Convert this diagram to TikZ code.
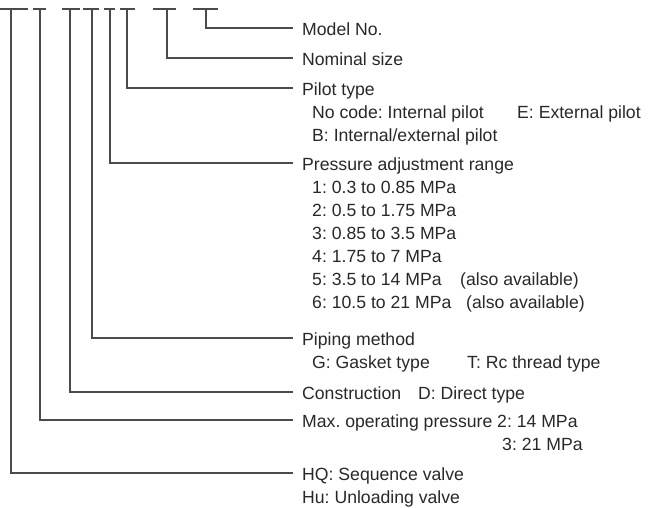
\documentclass[tikz,border=0pt]{standalone}
\usepackage{fontspec}
\setmainfont{Liberation Sans}
\frenchspacing
\definecolor{txtgray}{RGB}{40,40,40}
\definecolor{lngray}{RGB}{75,75,75}

\begin{document}
\begin{tikzpicture}[x=1bp, y=-1bp,
		lead/.style={draw=lngray, line width=1.2bp},
		head/.style={anchor=west, inner xsep=9bp, inner ysep=0pt, text height=15bp, text depth=0pt, text=txtgray, font=\fontsize{17.7}{22}\selectfont},
		sub/.style={head, inner xsep=0pt}]
		\useasboundingbox (0,0) rectangle (652,508);
		
		% Barras del código
		\draw[lead] (0,9) -- (28,9) (33,9) -- (46,9) (62,9) -- (80,9) (83,9) -- (99,9)
			(104,9) -- (115,9) (120,9) -- (135,9) (153,9) -- (176,9) (193,9) -- (218,9);
		\coordinate (t1) at (11,9);
		\coordinate (t2) at (40,9);
		\coordinate (t3) at (70,9);
		\coordinate (t4) at (92,9);
		\coordinate (t5) at (110,9);
		\coordinate (t6) at (127,9);
		\coordinate (t7) at (167,9);
		\coordinate (t8) at (206,9);
		
		% Títulos
		\node[head] (model) at (293,28) {Model No.};
		\node[head] (size) at (293,58) {Nominal size};
		\node[head] (pilot) at (293,88) {Pilot type};
		\node[head] (range) at (293,163) {Pressure adjustment range};
		\node[head] (piping) at (293,338) {Piping method};
		\node[head] (constr) at (293,392) {Construction};
		\node[head] (maxp) at (293,420) {Max. operating pressure};
		\node[head] (hq) at (293,473) {HQ: Sequence valve};
		
		% Opciones
		\node[sub] (pilotA) at (312,111) {No code: Internal pilot};
		\node[sub] (pilotE) at (517,111) {E: External pilot};
		\node[sub] (pilotB) at (312,134) {B: Internal/external pilot};
		\node[sub] (r1) at (312,186) {1: 0.3 to 0.85 MPa};
		\node[sub] (r2) at (312,209) {2: 0.5 to 1.75 MPa};
		\node[sub] (r3) at (312,232) {3: 0.85 to 3.5 MPa};
		\node[sub] (r4) at (312,255) {4: 1.75 to 7 MPa};
		\node[sub] (r5) at (312,278) {5: 3.5 to 14 MPa};
		\node[sub] (r5a) at (460,278) {(also available)};
		\node[sub] (r6) at (312,301) {6: 10.5 to 21 MPa};
		\node[sub] (r6a) at (466,301) {(also available)};
		\node[sub] (pipG) at (312,361) {G: Gasket type};
		\node[sub] (pipT) at (467,361) {T: Rc thread type};
		\node[sub] (constrD) at (418,392) {D: Direct type};
		\node[sub] (maxp2) at (497,420) {2: 14 MPa};
		\node[sub] (maxp3) at (502,443) {3: 21 MPa};
		\node[sub] (hu) at (302,496) {Hu: Unloading valve};
		
		% Líneas
		\draw[lead] (t8) |- (model);
		\draw[lead] (t7) |- (size);
		\draw[lead] (t6) |- (pilot);
		\draw[lead] (t5) |- (range);
		\draw[lead] (t4) |- (piping);
		\draw[lead] (t3) |- (constr);
		\draw[lead] (t2) |- (maxp);
		\draw[lead] (t1) |- (hq);
	\end{tikzpicture}
\end{document}
